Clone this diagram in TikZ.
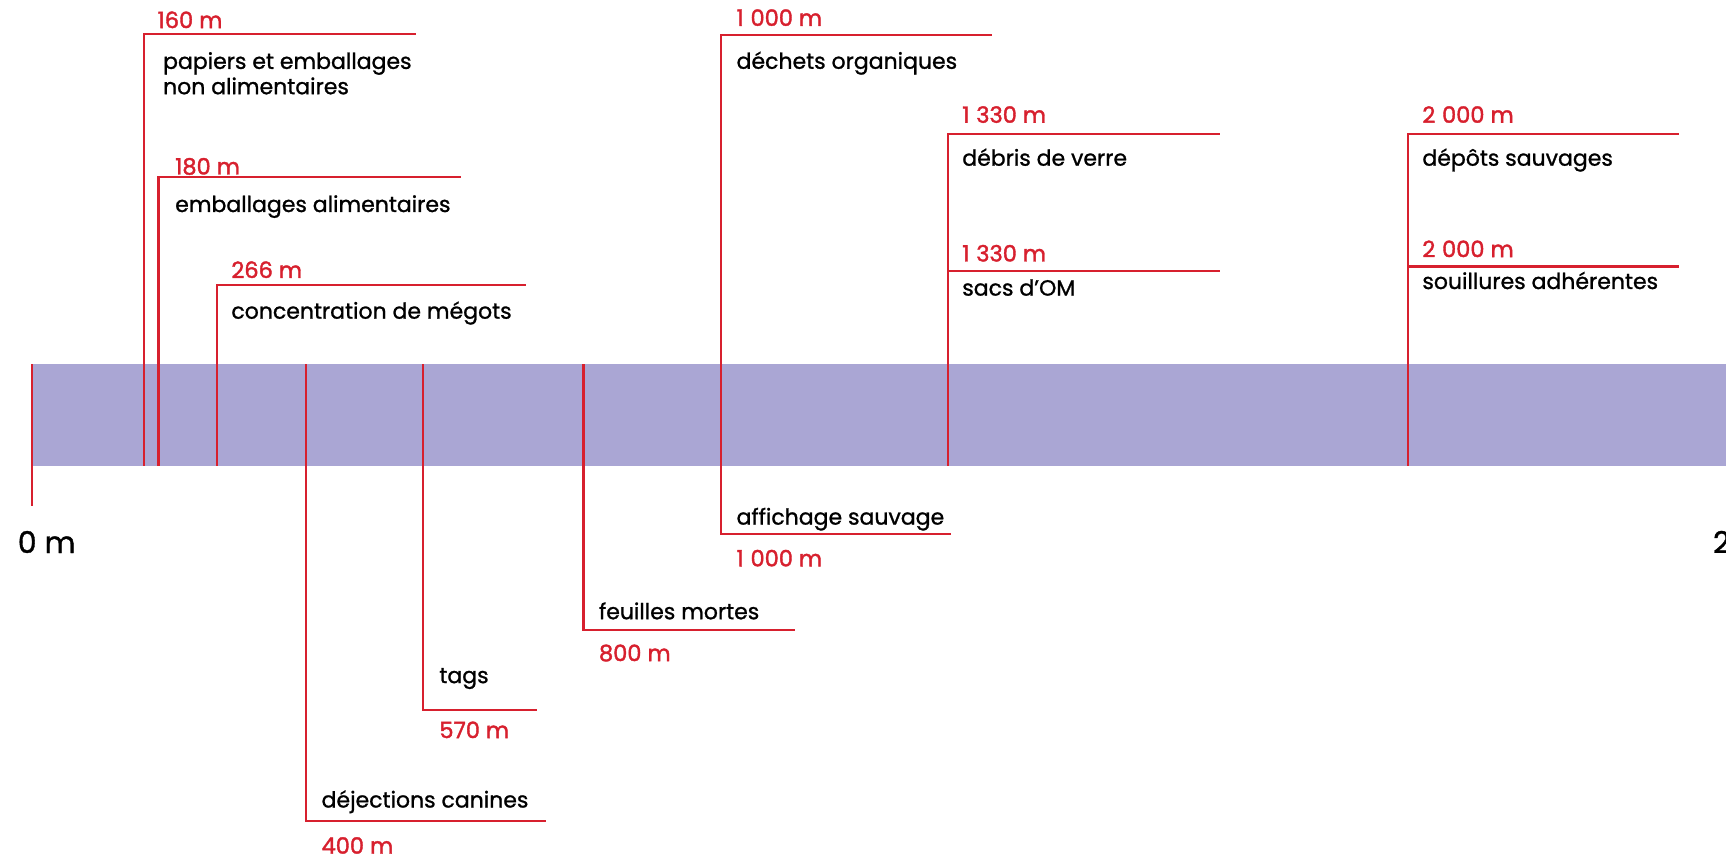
\documentclass[tikz,border=0pt]{standalone}
\usepackage{fontspec}
\setmainfont{Poppins}[FakeBold=1.1]
\newfontfamily\chiffres{Poppins}[FakeBold=1.7]
\usetikzlibrary{positioning}
\definecolor{repere}{RGB}{215,32,46}
\definecolor{bande}{RGB}{170,166,212}
\newcommand{\milliers}{\hspace{0.3em}}

\tikzset{
  trait/.style={draw=repere, line width=2.4pt},
  metrage/.style={anchor=base west, inner sep=0pt, text=repere, font=\chiffres\fontsize{22.5}{26}\selectfont},
  libelle/.style={anchor=base west, inner sep=0pt, align=left, font=\fontsize{22}{25.3}\selectfont},
  borne/.style={anchor=base west, inner sep=0pt, font=\fontsize{30}{34}\selectfont}
}

\begin{document}
\begin{tikzpicture}[x=1pt,y=-1pt]
        \useasboundingbox (0,0) rectangle (1726,858);
        \clip (0,0) rectangle (1726,858);
        % bande
        \fill [bande] (31.9,364.4) rectangle (1726,465.6);
        % origine
        \coordinate (h0) at (31.9,364.4);
        \coordinate (b0) at (31.9,506.4);
        \draw [trait] (h0) -- (b0);
        \node [borne] (o) at (17.6,553) {0 m};
        \node [borne] (fin) at (1712.8,553) {2\milliers 000 m};
        % 160 m
        \coordinate (p160) at (144.2,465.6);
        \coordinate (c160) at (144.2,34.1);
        \coordinate (e160) at (416.1,34.1);
        \draw [trait] (p160) -- (c160) -- (e160);
        \node [metrage] (d160) at (157.4,28.1) {160 m};
        \node [libelle] (t160) at (162.9,94.2) {papiers et emballages\\non alimentaires};
        % 180 m
        \coordinate (p180) at (158.5,465.6);
        \coordinate (c180) at (158.5,177.2);
        \coordinate (e180) at (461.2,177.2);
        \draw [trait] (p180) -- (c180) -- (e180);
        \node [metrage] (d180) at (175,174.5) {180 m};
        \node [libelle] (t180) at (175,212) {emballages alimentaires};
        % 266 m
        \coordinate (p266) at (216.9,465.6);
        \coordinate (c266) at (216.9,285.1);
        \coordinate (e266) at (526.2,285.1);
        \draw [trait] (p266) -- (c266) -- (e266);
        \node [metrage] (d266) at (231.2,278) {266 m};
        \node [libelle] (t266) at (231.2,318.7) {concentration de mégots};
        % 400 m
        \coordinate (p400) at (306,364.4);
        \coordinate (c400) at (306,821.2);
        \coordinate (e400) at (546,821.2);
        \draw [trait] (p400) -- (c400) -- (e400);
        \node [libelle] (t400) at (321.4,807.5) {déjections canines};
        \node [metrage] (d400) at (321.4,853.7) {400 m};
        % 570 m
        \coordinate (p570) at (422.7,364.4);
        \coordinate (c570) at (422.7,710);
        \coordinate (e570) at (537.2,710);
        \draw [trait] (p570) -- (c570) -- (e570);
        \node [libelle] (t570) at (439.2,683.1) {tags};
        \node [metrage] (d570) at (439.2,738.1) {570 m};
        % 800 m
        \coordinate (p800) at (583.4,364.4);
        \coordinate (c800) at (583.4,629.7);
        \coordinate (e800) at (794.8,629.7);
        \draw [trait] (p800) -- (c800) -- (e800);
        \node [libelle] (t800) at (598.8,619.2) {feuilles mortes};
        \node [metrage] (d800) at (598.8,661.1) {800 m};
        % 1 000 m
        \coordinate (e1000h) at (991.8,35.2);
        \coordinate (c1000h) at (721,35.2);
        \coordinate (c1000b) at (721,533.9);
        \coordinate (e1000b) at (951.1,533.9);
        \draw [trait] (e1000h) -- (c1000h) -- (c1000b) -- (e1000b);
        \node [metrage] (d1000h) at (736.4,25.9) {1\milliers 000 m};
        \node [libelle] (t1000h) at (736.4,68.8) {déchets organiques};
        \node [libelle] (t1000b) at (736.4,524.6) {affichage sauvage};
        \node [metrage] (d1000b) at (736.4,566.4) {1\milliers 000 m};
        % 1 330 m
        \coordinate (p1330) at (947.8,465.6);
        \coordinate (c1330) at (947.8,134.3);
        \coordinate (e1330) at (1219.7,134.3);
        \coordinate (m1330) at (947.8,270.8);
        \coordinate (f1330) at (1219.7,270.8);
        \draw [trait] (p1330) -- (c1330) -- (e1330);
        \draw [trait] (m1330) -- (f1330);
        \node [metrage] (d1330h) at (962.1,122.8) {1\milliers 330 m};
        \node [libelle] (t1330h) at (962.1,165.7) {débris de verre};
        \node [metrage] (d1330b) at (962.1,261.5) {1\milliers 330 m};
        \node [libelle] (t1330b) at (962.1,295.6) {sacs d’OM};
        % 2 000 m
        \coordinate (p2000) at (1407.9,465.6);
        \coordinate (c2000) at (1407.9,134.3);
        \coordinate (e2000) at (1678.7,134.3);
        \coordinate (m2000) at (1407.9,266.4);
        \coordinate (f2000) at (1678.7,266.4);
        \draw [trait] (p2000) -- (c2000) -- (e2000);
        \draw [trait] (m2000) -- (f2000);
        \node [metrage] (d2000h) at (1422.2,122.8) {2\milliers 000 m};
        \node [libelle] (t2000h) at (1422.2,165.7) {dépôts sauvages};
        \node [metrage] (d2000b) at (1422.2,257.1) {2\milliers 000 m};
        \node [libelle] (t2000b) at (1422.2,289) {souillures adhérentes};
\end{tikzpicture}
\end{document}
